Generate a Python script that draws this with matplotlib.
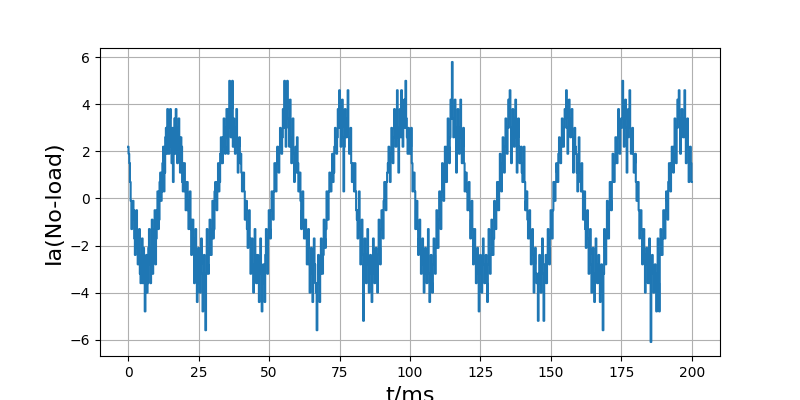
import numpy as np
import matplotlib
matplotlib.use('Agg')
import matplotlib.pyplot as plt

# no-load phase current, sampled every 0.25 ms, one list per 20 ms period
cyc1 = [2.2, 1.9, 1.5, 0.7, -0.1, -1.3, -0.9, -0.1, -0.5, -1.7, -2.4, -1.3, -0.5, -2.1, -2.8, -1.7, -1.3, -3.2, -3.6, -2.4,
        -1.7, -3.6, -2.1, -3.2, -4.8, -2.8, -2.4, -4.0, -3.6, -2.1, -1.3, -2.8, -3.6, -2.1, -0.9, -3.2, -2.4, -1.3, -0.5, -2.8,
        -1.7, -0.5, 0.3, -1.3, -0.9, 0.7, 1.1, -0.1, 0.3, 1.5, 2.2, 0.3, 1.1, 2.6, 3.0, 1.9, 3.8, 2.6, 1.9, 3.4,
        3.8, 2.2, 1.5, 3.0, 0.7, 2.6, 3.4, 1.9, 3.8, 2.6, 1.5, 3.0, 3.4, 1.9, 1.1, 2.6, 2.2, 0.7, 0.3, 1.5]
cyc2 = [1.5, 0.3, -0.5, 0.7, 0.7, -0.5, -1.3, -0.1, 0.3, -1.3, -2.4, -0.9, -0.9, -2.1, -3.6, -1.7, -1.3, -3.2, -4.4, -2.4,
        -2.1, -3.6, -4.0, -2.8, -1.7, -3.2, -4.8, -3.6, -2.4, -4.0, -5.6, -3.2, -1.3, -2.8, -3.2, -2.1, -0.9, -2.4, -2.4, -1.3,
        -0.1, -1.7, -1.3, 0.3, 0.7, -0.1, -0.5, 0.7, 1.5, 0.3, 0.7, 1.9, 2.6, 1.5, 1.5, 2.6, 3.4, 2.2, 1.9, 3.0,
        3.8, 2.6, 1.9, 3.8, 5.0, 3.0, 2.6, 3.8, 5.0, 2.2, 3.4, 2.6, 1.9, 3.0, 3.8, 2.2, 1.1, 2.2, 2.6, 1.5]
cyc3 = [1.9, 1.1, 0.3, 0.7, 1.1, 0.3, -0.9, -0.5, -0.1, -1.3, -2.1, -1.3, -0.5, -1.7, -3.2, -2.4, -1.7, -2.8, -4.0, -2.8,
        -1.3, -2.4, -3.6, -2.8, -2.4, -3.6, -4.4, -3.2, -1.7, -3.2, -4.8, -3.6, -2.8, -3.6, -4.4, -2.4, -1.3, -2.1, -3.2, -1.7,
        -0.5, -1.3, -1.7, -0.5, 0.3, -0.5, -0.9, 0.3, 1.5, 0.7, 0.3, 1.5, 2.2, 1.5, 1.1, 2.2, 3.0, 2.6, 1.9, 2.6,
        3.8, 3.0, 5.0, 3.4, 2.2, 3.8, 5.0, 3.4, 3.0, 2.2, 4.2, 2.6, 1.5, 2.6, 3.4, 1.9, 0.7, 1.5, 2.2, 1.1]
cyc4 = [2.6, 1.5, 0.3, 0.7, 1.1, -0.1, -1.3, -0.5, 0.3, -0.9, -1.7, -1.3, -0.9, -1.7, -2.8, -2.1, -1.3, -2.8, -4.0, -3.2,
        -2.1, -3.2, -4.4, -2.8, -1.7, -2.8, -3.6, -4.0, -5.6, -3.6, -2.4, -3.2, -4.4, -3.2, -1.7, -2.4, -3.2, -2.4, -0.9, -1.7,
        -2.1, -1.3, 0.3, -0.5, -0.9, 0.3, 1.1, 0.3, 0.3, 1.1, 1.9, 0.7, 1.1, 2.2, 3.0, 2.2, 1.9, 2.6, 3.8, 3.0,
        4.6, 3.4, 2.2, 3.0, 4.2, 2.6, 0.3, 2.2, 3.8, 3.0, 2.6, 3.4, 4.6, 2.6, 1.9, 2.6, 3.0, 1.5, 0.7, 1.5]
cyc5 = [0.7, 0.3, 1.5, 0.3, -0.5, -0.9, -1.7, -0.5, 0.3, -1.3, -2.8, -1.7, -0.9, -2.4, -5.2, -2.8, -1.7, -2.4, -3.6, -2.4,
        -1.3, -2.8, -4.0, -3.2, -2.4, -3.2, -4.4, -2.8, -1.7, -3.2, -3.6, -2.8, -2.1, -2.8, -4.0, -2.4, -0.9, -2.1, -2.8, -1.3,
        -0.5, -1.3, -1.7, -0.1, 0.7, -0.1, -0.5, 0.7, 1.1, 1.5, 2.2, 1.1, 0.7, 1.9, 3.0, 2.2, 1.5, 2.6, 3.8, 3.0,
        2.2, 3.4, 4.6, 2.6, 1.1, 3.0, 3.8, 2.6, 4.6, 3.4, 2.2, 3.0, 4.2, 3.0, 5.0, 3.4, 2.6, 1.9, 3.0, 2.2]
cyc6 = [1.9, 2.2, 3.0, 1.5, 0.3, 0.7, 1.1, 0.3, -1.3, -0.5, -0.1, -1.3, -2.4, -1.7, -0.9, -2.1, -3.2, -2.4, -1.7, -2.8,
        -4.0, -3.2, -2.1, -2.8, -3.6, -2.4, -1.3, -3.2, -4.4, -3.2, -2.4, -3.6, -4.0, -2.8, -1.7, -2.4, -3.2, -2.1, -0.5, -1.7,
        -2.1, -0.9, 0.3, -0.5, -1.3, 0.3, 1.5, 0.3, -0.1, 0.7, 2.2, 1.5, 0.7, 2.2, 3.4, 2.2, 1.5, 2.6, 4.2, 3.4,
        5.8, 3.4, 2.6, 3.0, 4.2, 2.6, 1.1, 3.0, 3.8, 2.6, 1.9, 3.0, 4.2, 2.6, 1.5, 2.2, 3.0, 1.5, 0.3, 1.1]
cyc7 = [1.1, 0.3, -0.5, 0.3, 0.7, -0.5, -1.7, -0.9, -0.1, -1.3, -2.8, -1.7, -1.3, -2.4, -3.6, -2.4, -2.1, -3.2, -4.8, -3.2,
        -2.4, -3.2, -4.0, -2.8, -1.7, -2.8, -3.6, -3.2, -2.4, -3.6, -4.4, -2.8, -1.3, -2.4, -3.2, -2.4, -0.9, -1.7, -2.4, -1.7,
        -0.1, -0.9, -1.3, -0.5, 0.7, 0.3, -0.5, 0.7, 1.9, 1.1, 0.3, 1.5, 2.6, 1.9, 1.1, 2.2, 3.4, 2.6, 1.9, 3.0,
        4.2, 3.4, 4.6, 3.0, 1.5, 3.0, 3.8, 3.4, 2.2, 3.0, 4.2, 2.6, 1.1, 2.6, 3.4, 2.2, 1.5, 1.9, 2.2, 1.1]
cyc8 = [0.7, 1.5, 2.2, 0.7, -0.5, -0.1, 0.3, -0.9, -1.7, -0.9, -0.5, -1.7, -2.8, -2.1, -1.3, -2.4, -4.0, -2.8, -2.1, -3.2,
        -3.6, -3.2, -5.2, -3.2, -2.4, -3.6, -4.0, -2.8, -1.7, -3.2, -5.2, -3.6, -2.8, -2.4, -3.6, -2.4, -1.3, -2.1, -2.8, -1.7,
        -0.5, -1.3, -1.7, -0.5, 0.7, 0.3, -0.1, 0.7, 1.5, 1.1, 0.7, 1.9, 2.6, 1.9, 1.5, 2.2, 3.4, 2.6, 2.2, 3.0,
        3.8, 3.4, 4.6, 3.0, 1.9, 3.0, 4.2, 3.4, 2.6, 3.0, 3.8, 2.6, 1.1, 2.6, 3.0, 2.2, 1.9, 1.1, 0.3, 1.5]
cyc9 = [2.6, 1.1, 0.7, 0.3, 1.5, 0.3, -0.9, -0.5, 0.3, -1.3, -2.1, -1.3, -0.5, -1.7, -3.2, -2.4, -1.3, -2.8, -4.0, -2.8,
        -2.1, -3.2, -4.4, -3.2, -1.7, -2.8, -3.6, -3.2, -2.4, -3.6, -4.4, -3.6, -2.8, -4.0, -5.6, -3.2, -1.3, -2.1, -2.8, -1.7,
        -0.1, -1.3, -1.7, -0.5, 0.7, -0.1, -0.5, 0.7, 1.9, 1.1, 0.7, 1.5, 2.6, 1.9, 1.5, 2.6, 3.8, 2.6, 1.9, 3.0,
        3.4, 3.4, 5.0, 3.0, 2.2, 3.4, 4.2, 3.0, 1.1, 2.6, 3.8, 3.0, 4.6, 2.6, 1.9, 2.6, 3.0, 1.9, 1.1, 1.5]
cyc10 = [1.9, 0.7, -0.1, 0.3, 0.7, -0.5, -1.7, -0.9, -0.5, -1.3, -2.8, -1.7, -1.3, -2.4, -4.0, -2.4, -2.1, -2.8, -3.6, -3.2,
         -1.7, -3.6, -6.1, -3.2, -2.4, -3.2, -4.0, -3.6, -2.8, -3.2, -4.8, -3.2, -1.7, -3.6, -4.8, -2.4, -1.3, -2.1, -2.4, -1.7,
         -0.5, -1.3, -1.7, -0.5, 0.3, -0.1, -0.9, 0.7, 1.5, 0.7, 0.3, 1.5, 2.2, 1.9, 1.1, 2.2, 3.4, 2.6, 1.5, 3.0,
         4.2, 3.4, 4.6, 3.0, 1.9, 3.4, 3.8, 3.0, 2.6, 3.4, 4.6, 2.6, 1.5, 2.6, 3.4, 2.2, 0.7, 1.5, 2.2, 1.5]
last = [0.7]

cycles = [cyc1, cyc2, cyc3, cyc4, cyc5, cyc6, cyc7, cyc8, cyc9, cyc10]
for c in cycles:
    assert len(c) == 80, len(c)

ia = sum(cycles, []) + last
t = np.linspace(0, 200, len(ia))

fig = plt.figure(figsize=(8, 4), dpi=100)
# sampled (zero-order hold) signal -> vertical jumps between quantisation levels
plt.plot(t, ia, drawstyle='steps-mid')
plt.xlabel('t/ms', fontsize=16)
plt.ylabel('Ia(No-load)', fontsize=16)
plt.grid(True)
plt.savefig('out.png')
